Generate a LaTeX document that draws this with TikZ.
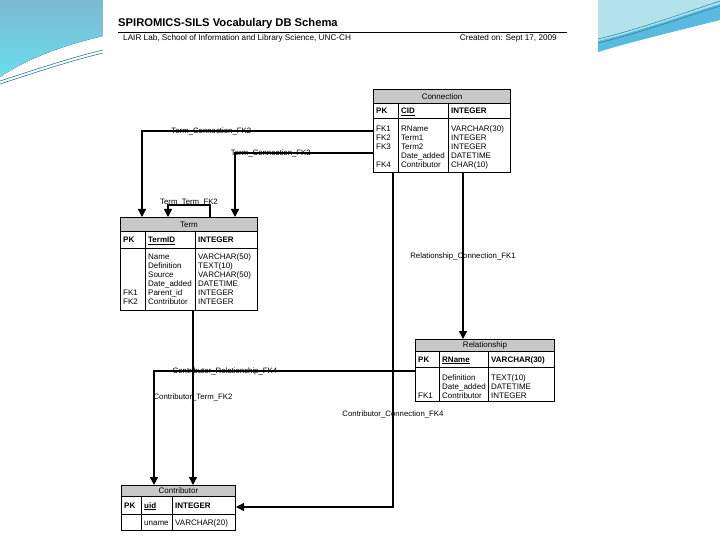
\documentclass[tikz,border=0pt]{standalone}
\usepackage{fontspec}
\setmainfont{Liberation Sans}
\usetikzlibrary{positioning, arrows.meta, calc}
\definecolor{swoopblue}{RGB}{125, 185, 210}
\definecolor{swoopcyan}{RGB}{105, 222, 236}
\definecolor{swooplight}{RGB}{178, 226, 236}
\definecolor{swoopmid}{RGB}{90, 185, 222}
\definecolor{swoopline}{RGB}{35, 125, 150}
\definecolor{headgray}{RGB}{200, 200, 200}

\tikzset{
  tblbox/.style={draw, line width=1pt, inner sep=0pt, anchor=north west},
  tblhead/.style={tblbox, fill=headgray, font=\fontsize{8}{9}\selectfont},
  celltext/.style={font=\fontsize{8}{9}\selectfont, inner sep=0pt, anchor=north west, align=left},
  keytext/.style={font=\fontsize{8}{9}\selectfont\bfseries, inner sep=0pt, anchor=base west},
  fklabel/.style={font=\fontsize{7.8}{9}\selectfont, inner sep=0pt},
  fkline/.style={line width=1.3pt, -{Triangle[width=8pt,length=8pt]}},
}

\begin{document}
\begin{tikzpicture}[x=1pt, y=-1pt]
\useasboundingbox (0,0) rectangle (720,540);

% slide decoration
\fill[top color=swoopblue, bottom color=swoopcyan]
    (0,0) -- (103,0) -- (103,36) .. controls (60,46) and (25,60) .. (0,77) -- cycle;
\draw[swoopline, line width=0.6pt] (0,81) .. controls (40,68) and (70,58) .. (103,50);
\draw[swoopline, line width=0.6pt] (0,84) .. controls (40,71) and (70,61) .. (103,53);
\fill[swooplight]
    (598,0) -- (720,0) -- (720,20) .. controls (680,30) and (630,42) .. (598,52) -- cycle;
\fill[swoopmid]
    (598,41) .. controls (640,31) and (690,13) .. (720,4) -- (720,20)
    .. controls (680,30) and (630,42) .. (598,52) -- cycle;
\draw[swoopline, line width=0.5pt] (598,39) .. controls (640,29) and (690,11) .. (720,1);
\draw[swoopline, line width=0.5pt] (598,43) .. controls (640,33) and (690,15) .. (720,6);
\fill[white] (103,0) rectangle (598,540);

% heading
\node[font=\fontsize{11.2}{13}\selectfont\bfseries, inner sep=0pt, anchor=base west]
    (title) at (118,27) {SPIROMICS-SILS Vocabulary DB Schema};
\draw[line width=1.3pt] (118,32.5) -- (567,32.5);
\node[font=\fontsize{8.2}{9}\selectfont, inner sep=0pt, anchor=base west]
    (lab) at (123,40.5) {LAIR Lab, School of Information and Library Science, UNC-CH};
\node[font=\fontsize{8.2}{9}\selectfont, inner sep=0pt, anchor=base east]
    (created) at (557,40.5) {Created on: Sept 17, 2009};

% Connection
\node[tblbox, minimum width=137pt, minimum height=83pt] (conn) at (373,89) {};
\node[tblhead, minimum width=137pt, minimum height=14pt] (connhead) at (373,89) {Connection};
\draw[line width=1pt] (373,119) -- (510,119);
\draw[line width=1pt] (398,103) -- (398,172);
\draw[line width=1pt] (448,103) -- (448,172);
\node[keytext] at (376,114) {PK};
\node[keytext] at (401,114) {\underline{CID}};
\node[keytext] at (451,114) {INTEGER};
\node[celltext] at (376,126) {FK1\\FK2\\FK3\\ \\FK4};
\node[celltext] at (401,126) {RName\\Term1\\Term2\\Date\_added\\Contributor};
\node[celltext] at (451,126) {VARCHAR(30)\\INTEGER\\INTEGER\\DATETIME\\CHAR(10)};

% Term
\node[tblbox, minimum width=137pt, minimum height=93pt] (term) at (120,217) {};
\node[tblhead, minimum width=137pt, minimum height=14pt] (termhead) at (120,217) {Term};
\draw[line width=1pt] (120,248) -- (257,248);
\draw[line width=1pt] (145,231) -- (145,310);
\draw[line width=1pt] (195,231) -- (195,310);
\node[keytext] at (123,242.5) {PK};
\node[keytext] at (148,242.5) {\underline{TermID}};
\node[keytext] at (198,242.5) {INTEGER};
\node[celltext] at (123,290) {FK1\\FK2};
\node[celltext] at (148,254) {Name\\Definition\\Source\\Date\_added\\Parent\_id\\Contributor};
\node[celltext] at (198,254) {VARCHAR(50)\\TEXT(10)\\VARCHAR(50)\\DATETIME\\INTEGER\\INTEGER};

% Relationship
\node[tblbox, minimum width=139pt, minimum height=62pt] (rel) at (415,339) {};
\node[tblhead, minimum width=139pt, minimum height=12pt] (relhead) at (415,339) {Relationship};
\draw[line width=1pt] (415,367) -- (554,367);
\draw[line width=1pt] (439,351) -- (439,401);
\draw[line width=1pt] (488,351) -- (488,401);
\node[keytext] at (418,362) {PK};
\node[keytext] at (442,362) {\underline{RName}};
\node[keytext] at (491,362) {VARCHAR(30)};
\node[celltext] at (418,393) {FK1};
\node[celltext] at (442,375) {Definition\\Date\_added\\Contributor};
\node[celltext] at (491,375) {TEXT(10)\\DATETIME\\INTEGER};

% Contributor
\node[tblbox, minimum width=114pt, minimum height=45pt] (contrib) at (121,485) {};
\node[tblhead, minimum width=114pt, minimum height=11pt] (contribhead) at (121,485) {Contributor};
\draw[line width=1pt] (121,514) -- (235,514);
\draw[line width=1pt] (141,496) -- (141,530);
\draw[line width=1pt] (172,496) -- (172,530);
\node[keytext] at (124,508) {PK};
\node[keytext] at (144,508) {\underline{uid}};
\node[keytext] at (175,508) {INTEGER};
\node[celltext, anchor=base west] at (144,525) {uname};
\node[celltext, anchor=base west] at (175,525) {VARCHAR(20)};

% foreign keys
\draw[fkline] ($(conn.north west)+(0,42)$) -| ($(term.north west)+(22,0)$)
    node[fklabel, pos=0.35] {Term\_Connection\_FK2};
\draw[fkline] ($(conn.north west)+(0,64)$) -| ($(term.north west)+(115,0)$)
    node[fklabel, pos=0.37] {Term\_Connection\_FK3};
\draw[fkline] ($(term.north west)+(90,0)$) -- ++(0,-12)
    -| node[fklabel, pos=0.25, yshift=2pt] {Term\_Term\_FK2} ($(term.north west)+(48,0)$);
\draw[fkline] ($(conn.south west)+(90,0)$) -- ($(rel.north west)+(48,0)$)
    node[fklabel, pos=0.5] {Relationship\_Connection\_FK1};
\draw[fkline] ($(conn.south west)+(20,0)$) |- ($(contrib.north east)+(0,22)$)
    node[fklabel, pos=0.361] {Contributor\_Connection\_FK4};
\draw[fkline] ($(rel.north west)+(0,32)$) -| ($(contrib.north west)+(33,0)$)
    node[fklabel, pos=0.364] {Contributor\_Relationship\_FK4};
\draw[fkline] ($(term.south west)+(73,0)$) -- ($(contrib.north west)+(72,0)$)
    node[fklabel, pos=0.497] {Contributor\_Term\_FK2};

\end{tikzpicture}
\end{document}
